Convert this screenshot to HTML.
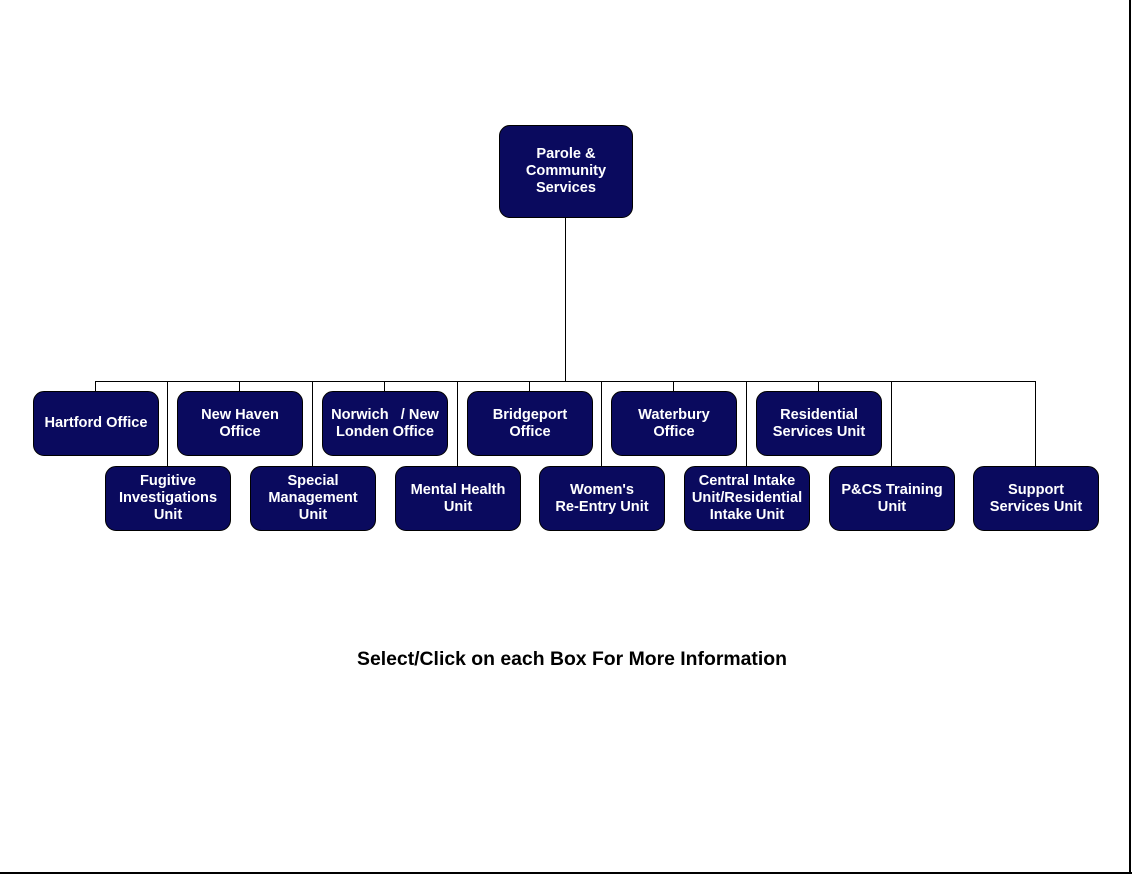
<!DOCTYPE html>
<html><head><meta charset="utf-8"><style>
html,body{margin:0;padding:0;background:#fff;}
#c{position:relative;width:1132px;height:874px;overflow:hidden;font-family:"Liberation Sans",Arial,sans-serif;}
.b{position:absolute;background:#0a0a5e;border:1px solid #000;border-radius:11px;box-sizing:border-box;color:#fff;font-weight:bold;font-size:14.6px;line-height:17px;display:flex;align-items:center;justify-content:center;text-align:center;white-space:nowrap;}
.h{position:absolute;background:#000;height:1px;}
.v{position:absolute;background:#000;width:1px;}
</style></head><body><div id="c">
<div class="v" style="left:565px;top:217px;height:165px"></div>
<div class="h" style="left:95px;top:381px;width:941px"></div>
<div class="v" style="left:95px;top:381px;height:10px"></div>
<div class="v" style="left:239px;top:381px;height:10px"></div>
<div class="v" style="left:384px;top:381px;height:10px"></div>
<div class="v" style="left:529px;top:381px;height:10px"></div>
<div class="v" style="left:673px;top:381px;height:10px"></div>
<div class="v" style="left:818px;top:381px;height:10px"></div>
<div class="v" style="left:167px;top:381px;height:85px"></div>
<div class="v" style="left:312px;top:381px;height:85px"></div>
<div class="v" style="left:457px;top:381px;height:85px"></div>
<div class="v" style="left:601px;top:381px;height:85px"></div>
<div class="v" style="left:746px;top:381px;height:85px"></div>
<div class="v" style="left:891px;top:381px;height:85px"></div>
<div class="v" style="left:1035px;top:381px;height:85px"></div>

<div class="b" style="left:499px;top:125px;width:134px;height:93px">Parole &amp;<br>Community<br>Services</div>

<div class="b" style="left:33px;top:391px;width:126px;height:65px">Hartford Office</div>
<div class="b" style="left:177px;top:391px;width:126px;height:65px">New Haven<br>Office</div>
<div class="b" style="left:322px;top:391px;width:126px;height:65px">Norwich &nbsp; / New<br>Londen Office</div>
<div class="b" style="left:467px;top:391px;width:126px;height:65px">Bridgeport<br>Office</div>
<div class="b" style="left:611px;top:391px;width:126px;height:65px">Waterbury<br>Office</div>
<div class="b" style="left:756px;top:391px;width:126px;height:65px">Residential<br>Services Unit</div>

<div class="b" style="left:105px;top:466px;width:126px;height:65px">Fugitive<br>Investigations<br>Unit</div>
<div class="b" style="left:250px;top:466px;width:126px;height:65px">Special<br>Management<br>Unit</div>
<div class="b" style="left:395px;top:466px;width:126px;height:65px">Mental Health<br>Unit</div>
<div class="b" style="left:539px;top:466px;width:126px;height:65px">Women's<br>Re-Entry Unit</div>
<div class="b" style="left:684px;top:466px;width:126px;height:65px">Central Intake<br>Unit/Residential<br>Intake Unit</div>
<div class="b" style="left:829px;top:466px;width:126px;height:65px">P&amp;CS Training<br>Unit</div>
<div class="b" style="left:973px;top:466px;width:126px;height:65px">Support<br>Services Unit</div>

<div style="position:absolute;left:0;width:1144px;top:648px;text-align:center;font-weight:bold;font-size:19.4px;color:#000">Select/Click on each Box For More Information</div>

<div style="position:absolute;left:1129px;top:0;width:2px;height:874px;background:#000"></div>
<div style="position:absolute;left:0;top:872px;width:1132px;height:2px;background:#000"></div>
</div></body></html>
